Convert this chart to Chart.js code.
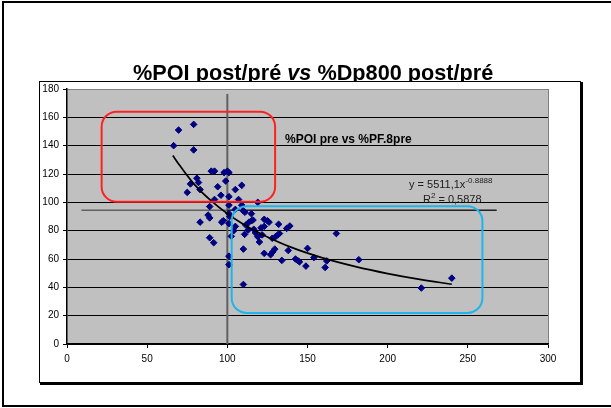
<!DOCTYPE html>
<html>
<head>
<meta charset="utf-8">
<script src="https://cdn.jsdelivr.net/npm/chart.js@4.4.1/dist/chart.umd.min.js"></script>
<style>
  html, body { margin: 0; padding: 0; background: #fff; }
  canvas { display: block; }
</style>
</head>
<body>
<canvas id="mycanvas" width="611" height="408"></canvas>
<script>
// values
var dpRatio = [66.5,69.6,79,79,90,92,98,100,101,81,77,82,83,75,94,99,109,105,96,101,107,92,119,89,101,109,105,110,111,115,101,101.5,88,89,83,96.5,97.5,101,105,111.5,113.5,115,116,113,116.5,121,123,123,125,126,132,137,139,102.5,89,91.5,117.5,119,120,121.7,128,130,131.5,132.5,110,123,127,128.3,129.6,134,138,142.5,144,145,149,150,101,101,110,168,154,162,161,182,240,221,104,110.8];
var poiRatio = [140,151,155,137,122,122,121,122,121,117,113,114,109,107,111,115,112,109,105,104,102,102,100,97,98,98,95,94,93,92,92,90,91,89,86,86,87,85,83,84,86,87,87.5,80.5,81,82,83,88,87,86,84.5,81.6,83.3,76,75,71.5,78.5,75.7,72,77,74.6,75.7,77,78,67,64,63,65,67,59,66,60,58.8,58,55,67.5,62,56,42,78,61,58.6,54,59.5,46.5,39.5,80,77.4];

// power trendline
var trendX = [66,70,80,90,100,110,120,140,160,180,200,220,240];
var trendY = [133,126.5,112,101,92,84.5,78.3,68.2,60.6,54.6,49.7,45.6,42.2];

var xTickLabels = [0,50,100,150,200,250,300];
var yTickLabels = [0,20,40,60,80,100,120,140,160,180];

var chartTitle = ['%POI post/pré ', 'vs', ' %Dp800 post/pré'];
var boxLabel = '%POI pre vs %PF.8pre';
var eqText = ['y = 5511,1x', '-0.8888'];
var r2Text = ['R', '2', ' = 0,5878'];

// reference lines and boxes, in data units
var refVLine = {x: 100, y0: 0, y1: 176.5};
var refHLine = {y: 94.5, x0: 9, x1: 268};
var redBox = {x0: 21.6, x1: 129.8, y0: 100.4, y1: 164};
var blueBox = {x0: 102.7, x1: 259.1, y0: 21.9, y1: 97.3};

var FONT = '"Liberation Sans", Arial, sans-serif';

function roundRect(ctx, x, y, w, h, r) {
  ctx.beginPath();
  ctx.moveTo(x + r, y);
  ctx.lineTo(x + w - r, y);
  ctx.arcTo(x + w, y, x + w, y + r, r);
  ctx.lineTo(x + w, y + h - r);
  ctx.arcTo(x + w, y + h, x + w - r, y + h, r);
  ctx.lineTo(x + r, y + h);
  ctx.arcTo(x, y + h, x, y + h - r, r);
  ctx.lineTo(x, y + r);
  ctx.arcTo(x, y, x + r, y, r);
  ctx.closePath();
}

var frame = {
  id: 'frame',
  beforeDraw: function(chart) {
    var ctx = chart.ctx, a = chart.chartArea;
    ctx.save();
    ctx.fillStyle = '#fff';
    ctx.fillRect(0, 0, chart.width, chart.height);
    // outer border
    ctx.strokeStyle = '#000';
    ctx.lineWidth = 2;
    ctx.strokeRect(3, 2, 640, 404);

    // title, "vs" in italic
    var x = 133, base = 80;
    ctx.fillStyle = '#000';
    ctx.textBaseline = 'alphabetic';
    for (var i = 0; i < chartTitle.length; i++) {
      ctx.font = (i == 1 ? 'italic bold ' : 'bold ') + '21.7px ' + FONT;
      ctx.fillText(chartTitle[i], x, base);
      x += ctx.measureText(chartTitle[i]).width;
    }

    // chart box (hides the title descenders like the original)
    ctx.fillStyle = '#fff';
    ctx.fillRect(39, 81, 542, 302);
    ctx.lineWidth = 1;
    ctx.strokeRect(39.5, 81.5, 541, 301);
    ctx.lineWidth = 2;
    ctx.beginPath();
    ctx.moveTo(582, 82); ctx.lineTo(582, 384); ctx.lineTo(40, 384);
    ctx.stroke();

    // plot background
    ctx.fillStyle = '#C0C0C0';
    ctx.fillRect(a.left, a.top, a.right - a.left, a.bottom - a.top);
    ctx.strokeStyle = '#808080';
    ctx.lineWidth = 1;
    ctx.beginPath();
    ctx.moveTo(a.right + 0.5, a.top); ctx.lineTo(a.right + 0.5, a.bottom);
    ctx.stroke();
    ctx.restore();
  },
  beforeDatasetsDraw: function(chart) {
    var ctx = chart.ctx, xs = chart.scales.x, ys = chart.scales.y;
    ctx.save();
    ctx.strokeStyle = '#606060';
    ctx.lineWidth = 2;
    ctx.beginPath();
    ctx.moveTo(xs.getPixelForValue(refVLine.x), ys.getPixelForValue(refVLine.y0));
    ctx.lineTo(xs.getPixelForValue(refVLine.x), ys.getPixelForValue(refVLine.y1));
    ctx.stroke();

    var hy = ys.getPixelForValue(refHLine.y);
    ctx.lineWidth = 1.5;
    ctx.strokeStyle = '#606060';
    ctx.beginPath();
    ctx.moveTo(xs.getPixelForValue(refHLine.x0), hy);
    ctx.lineTo(xs.getPixelForValue(100), hy);
    ctx.stroke();
    ctx.strokeStyle = '#202020';
    ctx.beginPath();
    ctx.moveTo(xs.getPixelForValue(100), hy);
    ctx.lineTo(xs.getPixelForValue(refHLine.x1), hy);
    ctx.stroke();
    ctx.restore();
  },
  afterDatasetsDraw: function(chart) {
    var ctx = chart.ctx, xs = chart.scales.x, ys = chart.scales.y;
    ctx.save();
    ctx.lineWidth = 2;
    var boxes = [[redBox, '#FF2020'], [blueBox, '#1EB4EC']];
    boxes.forEach(function(b) {
      var x0 = xs.getPixelForValue(b[0].x0), x1 = xs.getPixelForValue(b[0].x1);
      var y0 = ys.getPixelForValue(b[0].y1), y1 = ys.getPixelForValue(b[0].y0);
      ctx.strokeStyle = b[1];
      roundRect(ctx, x0, y0, x1 - x0, y1 - y0, 15);
      ctx.stroke();
    });

    ctx.fillStyle = '#000';
    ctx.font = 'bold 12px ' + FONT;
    ctx.fillText(boxLabel, 285, 143);

    // trendline equation
    ctx.fillStyle = '#202020';
    ctx.font = '11px ' + FONT;
    ctx.fillText(eqText[0], 409, 188);
    var w = ctx.measureText(eqText[0]).width;
    ctx.font = '8px ' + FONT;
    ctx.fillText(eqText[1], 409 + w, 183);

    ctx.font = '11px ' + FONT;
    ctx.fillText(r2Text[0], 423, 203);
    w = ctx.measureText(r2Text[0]).width;
    ctx.font = '8px ' + FONT;
    ctx.fillText(r2Text[1], 423 + w, 198);
    w += ctx.measureText(r2Text[1]).width;
    ctx.font = '11px ' + FONT;
    ctx.fillText(r2Text[2], 423 + w, 203);
    ctx.restore();
  }
};

var scatterPts = dpRatio.map(function(v, i) { return {x: v, y: poiRatio[i]}; });
var trendPts = trendX.map(function(v, i) { return {x: v, y: trendY[i]}; });

var ctx = document.getElementById('mycanvas');
var myChart = new Chart(ctx, {
  type: 'scatter',
  data: {
    datasets: [
      {
        label: 'trend',
        type: 'line',
        data: trendPts,
        borderColor: '#000',
        borderWidth: 1.7,
        pointRadius: 0,
        tension: 0.4,
        fill: false,
        order: 0
      },
      {
        label: '%POI',
        data: scatterPts,
        pointStyle: 'rectRot',
        pointRadius: 3.3,
        backgroundColor: '#000080',
        borderColor: '#000080',
        borderWidth: 1,
        order: 1
      }
    ]
  },
  options: {
    responsive: false,
    animation: false,
    devicePixelRatio: 1,
    layout: { padding: { left: 20, right: 63, top: 89, bottom: 34 } },
    plugins: {
      legend: { display: false },
      title: { display: false },
      tooltip: { enabled: false }
    },
    scales: {
      x: {
        type: 'linear',
        min: 0, max: 300,
        afterBuildTicks: function(s) { s.ticks = xTickLabels.map(function(v) { return {value: v}; }); },
        afterFit: function(s) { s.height = 30; },
        grid: { drawOnChartArea: false, drawTicks: true, tickLength: 4, tickColor: '#000' },
        border: { color: '#000', width: 1.5 },
        ticks: { color: '#000', padding: 5, font: { family: FONT, size: 10 }, maxRotation: 0 }
      },
      y: {
        type: 'linear',
        min: 0, max: 180,
        afterBuildTicks: function(s) { s.ticks = yTickLabels.map(function(v) { return {value: v}; }); },
        afterFit: function(s) { s.width = 47; },
        grid: {
          color: function(c) { return c.tick && c.tick.value == 180 ? '#808080' : '#000'; },
          lineWidth: 1,
          tickLength: 4,
          tickColor: '#000'
        },
        border: { color: '#000', width: 1.5 },
        ticks: { color: '#000', padding: 4, font: { family: FONT, size: 10 } }
      }
    }
  },
  plugins: [frame]
});
</script>
</body>
</html>
